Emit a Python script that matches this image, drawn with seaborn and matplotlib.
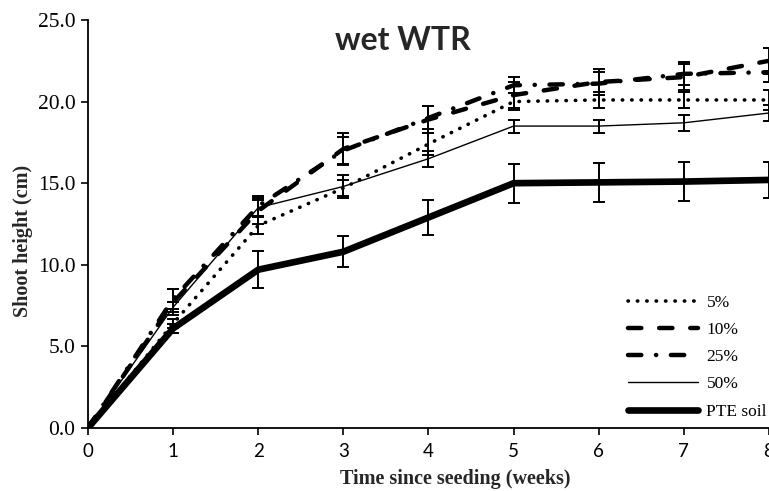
import numpy as np
import pandas as pd
import matplotlib
matplotlib.use("Agg")
import matplotlib.pyplot as plt
import seaborn as sns

weeks = [0, 1, 2, 3, 4, 5, 6, 7, 8]
series_names = ["5%", "10%", "25%", "50%", "PTE soil"]
h_5 = [0.0, 6.4, 12.4, 14.7, 17.4, 20.0, 20.1, 20.1, 20.1]
e_5 = [0.0, 0.3, 0.5, 0.5, 0.7, 0.5, 0.5, 0.5, 0.6]
h_10 = [0.0, 7.7, 13.3, 17.1, 18.9, 20.4, 21.2, 21.5, 22.5]
e_10 = [0.0, 0.8, 0.8, 1.0, 0.8, 0.8, 0.8, 0.8, 0.8]
h_25 = [0.0, 7.9, 13.6, 17.0, 19.0, 21.0, 21.1, 21.7, 21.8]
e_25 = [0.0, 0.6, 0.6, 0.8, 0.7, 0.5, 0.7, 0.7, 0.6]
h_50 = [0.0, 7.4, 13.5, 14.8, 16.5, 18.5, 18.5, 18.7, 19.3]
e_50 = [0.0, 0.3, 0.5, 0.7, 0.5, 0.4, 0.4, 0.5, 0.5]
h_pte = [0.0, 6.1, 9.7, 10.8, 12.9, 15.0, 15.05, 15.1, 15.2]
e_pte = [0.0, 0.3, 1.15, 0.95, 1.1, 1.2, 1.2, 1.2, 1.1]
y_ticks = [0, 5, 10, 15, 20, 25]

rows = []
for name, h, e in zip(series_names, [h_5, h_10, h_25, h_50, h_pte],
                      [e_5, e_10, e_25, e_50, e_pte]):
    for w, v, s in zip(weeks, h, e):
        rows.append({"week": w, "height": v, "err": s, "series": name})
df = pd.DataFrame(rows)

sns.set_style("white")
plt.rcParams["font.family"] = ["Liberation Serif", "DejaVu Sans"]

styles = {
    "5%": dict(lw=2.6, ls=(0, (0.1, 2.5)), dash_capstyle="round"),
    "10%": dict(lw=3.2, ls=(0, (3, 4)), dash_capstyle="round"),
    "25%": dict(lw=3.2, ls=(0, (3, 3.3, 0.05, 3.3)), dash_capstyle="round"),
    "50%": dict(lw=1.0, ls="-"),
    "PTE soil": dict(lw=4.8, ls="-", solid_capstyle="round"),
}

fig = plt.figure(figsize=(7.69, 4.91), dpi=100)
ax = fig.add_axes([0.1144, 0.1283, 0.8856, 0.8310])

for name in series_names:
    sub = df[df.series == name]
    st = styles[name]
    sns.lineplot(data=sub, x="week", y="height", ax=ax, color="black",
                 linewidth=st["lw"], linestyle=st["ls"], label=name,
                 errorbar=None, estimator=None)
    line = ax.get_lines()[-1]
    if "dash_capstyle" in st:
        line.set_dash_capstyle(st["dash_capstyle"])
    if "solid_capstyle" in st:
        line.set_solid_capstyle(st["solid_capstyle"])

for name in series_names:
    sub = df[(df.series == name) & (df.week > 0)]
    ax.errorbar(sub.week, sub.height, yerr=sub.err, fmt="none",
                ecolor="black", elinewidth=1.4, capsize=4.2, capthick=1.4,
                zorder=3)

ax.set_xlim(0, 8)
ax.set_ylim(0, 25)
ax.set_xticks(weeks)
ax.set_yticks(y_ticks)
ax.set_yticklabels([f"{v:.1f}" for v in y_ticks], fontsize=15.5,
                   family="Liberation Serif")
ax.set_xticklabels([str(w) for w in weeks], fontsize=13.5, family="Lato")
ax.tick_params(axis="both", direction="out", length=5, width=1.2,
               colors="black", bottom=True, left=True)
ax.tick_params(axis="x", pad=6)
ax.tick_params(axis="y", pad=4)
for s in ["top", "right"]:
    ax.spines[s].set_visible(False)
for s in ["left", "bottom"]:
    ax.spines[s].set_color("black")
    ax.spines[s].set_linewidth(1.3)
ax.set_xlabel("Time since seeding (weeks)", fontsize=14.5, fontweight="bold",
              family="Liberation Serif")
ax.set_ylabel("Shoot height (cm)", fontsize=14.5, fontweight="bold",
              family="Liberation Serif")
ax.xaxis.set_label_coords(0.54, -0.10)
ax.yaxis.set_label_coords(-0.08, 0.458)

fig.text(0.524, 0.918, "wet WTR", ha="center", va="center", fontsize=23,
         fontweight="bold", family="Lato")

leg = ax.legend(loc="lower right", bbox_to_anchor=(1.02, -0.018), frameon=False,
                handlelength=4.0, labelspacing=0.64, handletextpad=0.5,
                prop={"family": "Liberation Serif", "size": 12.5})
for t in leg.get_texts():
    t.set_color("black")

fig.savefig("out.png", dpi=100)
